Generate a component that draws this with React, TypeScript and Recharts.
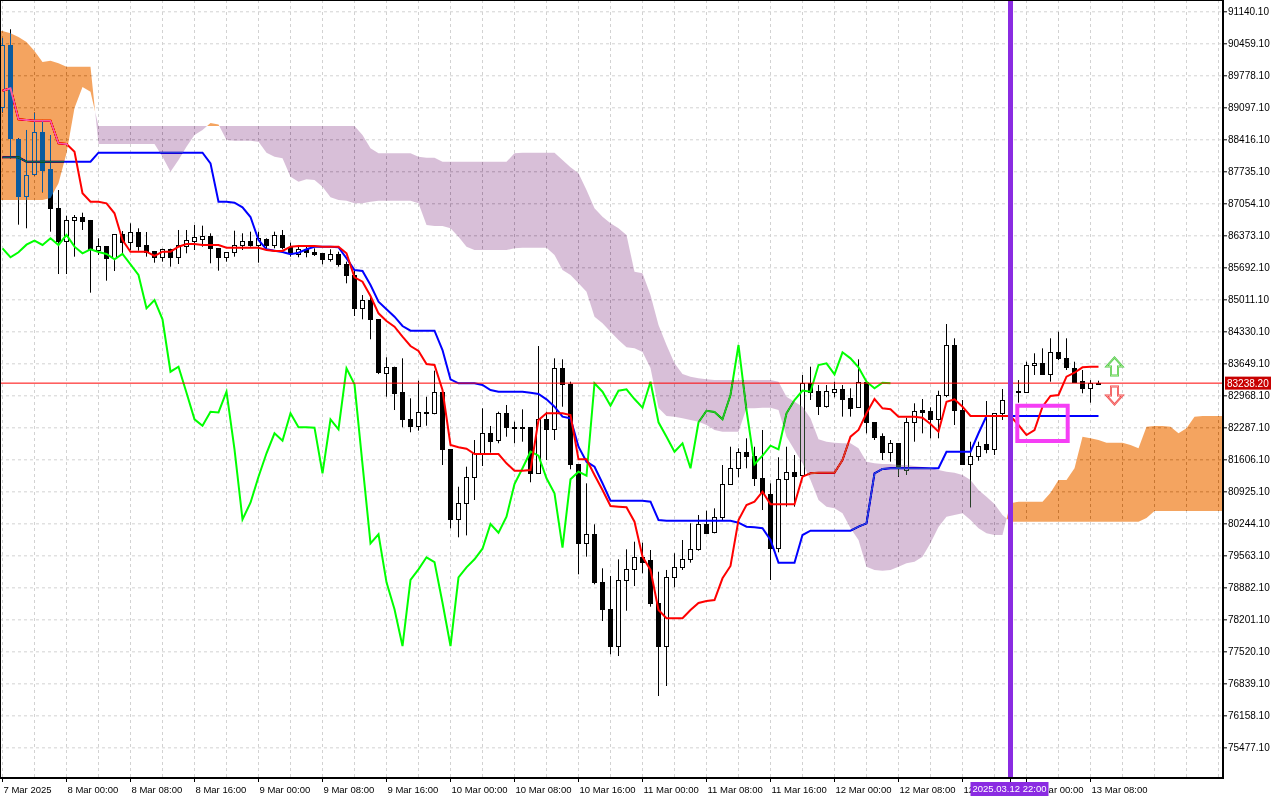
import {
  ComposedChart,
  Bar,
  Line,
  Area,
  XAxis,
  YAxis,
  CartesianGrid,
  ReferenceLine,
  ReferenceArea,
  ReferenceDot,
} from 'recharts';

// Hourly bars, index 0 = 7 Mar 2025 16:00
const OPEN = [
  89112, 90434, 88433, 87227, 87682, 88576, 87795, 86958, 86269, 86710,
  86767, 86710, 86071, 86156, 85894, 86405, 86248, 86454, 86172, 86050,
  85916, 86099, 85929, 86163, 86269, 86312, 86369, 86107, 85916, 86022,
  86178, 86263, 86178, 86299, 86178, 86391, 86142, 85980, 86086, 86029,
  86001, 85873, 85987, 85767, 85539, 84830, 85007, 84596, 83446, 83588,
  83041, 82468, 82332, 82625, 82609, 83056, 81830, 80340, 80694, 81247,
  81745, 82170, 82028, 82596, 82311, 82305, 82298, 81319, 82468, 82256,
  83554, 83213, 81511, 79830, 80021, 79000, 78425, 77644, 79049, 79276,
  79532, 79472, 78566, 77644, 79106, 79319, 79489, 79702, 80240, 80077,
  80396, 81085, 81426, 81766, 81694, 81213, 80879, 79736, 81192, 81353,
  81283, 83235, 83071, 82758, 83056, 83107, 82915, 82737, 83269, 82405,
  82113, 81779, 81958, 81389, 82405, 82666, 82651, 82468, 82985, 84049,
  82666, 81511, 81694, 81936, 81830, 82596, 82879, 83080, 83056, 83624,
  83674, 83426, 83894, 83766, 83554, 83290, 83128, 83248,
];
const HIGH = [
  90583, 90768, 88450, 88625, 88993, 88838, 88518, 87348, 86801, 86816,
  86865, 86710, 86320, 86156, 86405, 86475, 86639, 86533, 86454, 86050,
  86099, 86099, 86497, 86497, 86603, 86589, 86426, 86107, 86022, 86482,
  86426, 86461, 86461, 86320, 86461, 86497, 86227, 86178, 86156, 86107,
  86001, 86086, 86035, 85823, 85646, 85113, 85113, 84596, 83788, 83588,
  83766, 82915, 83290, 82949, 83503, 83056, 81830, 81034, 81460, 82028,
  82702, 82326, 82630, 82773, 82418, 82681, 82298, 84028, 82630, 83766,
  83745, 83269, 81511, 81106, 80234, 79298, 79134, 79489, 79702, 79864,
  79843, 79687, 79225, 79262, 79617, 79900, 80255, 80432, 80523, 80574,
  81496, 81885, 81851, 82064, 81885, 82241, 81106, 81660, 81885, 81709,
  83411, 83588, 83198, 83198, 83269, 83198, 83128, 83745, 83269, 82405,
  82170, 82028, 81958, 82502, 82809, 82900, 82724, 83077, 84496, 84192,
  82879, 81992, 81992, 82858, 82596, 83113, 83150, 83303, 83694, 83873,
  83979, 84192, 84333, 84192, 83694, 83517, 83303, 83290,
];
const LOW = [
  88999, 88023, 86610, 86533, 87660, 87299, 86461, 85560, 85560, 85929,
  86497, 85163, 85965, 85418, 85624, 86001, 86071, 86056, 85929, 85801,
  85823, 85716, 85773, 86001, 86071, 86142, 85788, 85631, 85823, 85929,
  86071, 86142, 85801, 86107, 86107, 86086, 85929, 85916, 85916, 85944,
  85766, 85823, 85716, 85362, 84667, 84596, 84171, 83431, 82949, 82666,
  82298, 82192, 82226, 82332, 82575, 81496, 80149, 79957, 79998, 80751,
  81474, 81758, 81958, 82098, 81958, 81992, 81128, 81319, 81602, 82028,
  82736, 81404, 79170, 79545, 78957, 78176, 77468, 77431, 78395, 78921,
  79191, 78481, 76580, 76793, 78893, 79262, 79417, 79672, 80042, 80042,
  80326, 81085, 81234, 81426, 81049, 80538, 79049, 79638, 80609, 80609,
  81247, 82879, 82560, 82716, 82936, 82525, 82525, 82716, 82170, 82028,
  81602, 81567, 81247, 81283, 81992, 82170, 82064, 82064, 82940, 82347,
  81496, 80596, 81587, 81745, 81709, 82454, 82700, 82822, 83056, 83411,
  83426, 83269, 83730, 83517, 83269, 83022, 82822, 83220,
];
const CLOSE = [
  90433, 88448, 87227, 87667, 88576, 87774, 86971, 86269, 86703, 86767,
  86695, 86086, 86150, 85894, 86405, 86248, 86454, 86163, 86022, 85916,
  86099, 85929, 86172, 86284, 86341, 86369, 86107, 85916, 86022, 86184,
  86269, 86178, 86320, 86178, 86391, 86142, 86001, 86086, 86029, 85987,
  85873, 85987, 85767, 85539, 84830, 85007, 84596, 83481, 83588, 83034,
  82468, 82332, 82630, 82615, 83056, 81830, 80340, 80694, 81247, 81745,
  82170, 82013, 82596, 82298, 82298, 82291, 81319, 82468, 82256, 83554,
  83213, 81511, 79830, 80021, 79000, 78425, 77644, 79049, 79276, 79532,
  79430, 78566, 77644, 79106, 79319, 79489, 79715, 80240, 80055, 80396,
  81092, 81426, 81779, 81694, 81213, 80894, 79736, 81192, 81353, 81268,
  83235, 83056, 82758, 83077, 83107, 82900, 82716, 83269, 82405, 82098,
  81779, 81958, 81426, 82405, 82651, 82624, 82468, 82985, 84049, 82666,
  81511, 81694, 81907, 81830, 82596, 82879, 83080, 83056, 83624, 83660,
  83426, 83894, 83766, 83575, 83269, 83128, 83248, 83238.2,
];

// Ichimoku lines
const TENKAN = [
  89461, 89512, 88853, 88838, 88823, 88823, 88823, 88342, 88327, 88163,
  87278, 87099, 87099, 87065, 86852, 86284, 86035, 86035, 86035, 85944,
  86035, 86035, 86141, 86199, 86199, 86178, 86178, 86178, 86120, 86120,
  86120, 86120, 86120, 86071, 86050, 86050, 86141, 86156, 86156, 86156,
  86141, 86141, 86141, 86001, 85490, 85397, 85092, 84724, 84560, 84439,
  84226, 84028, 83922, 83645, 83624, 83092, 81922, 81873, 81843, 81730,
  81730, 81730, 81730, 81532, 81375, 81375, 81390, 82454, 82596, 82596,
  82596, 82560, 81617, 81617, 81283, 80964, 80624, 80609, 80596, 80289,
  79545, 79262, 78410, 78234, 78234, 78234, 78410, 78559, 78602, 78623,
  79085, 79347, 80326, 80645, 80715, 80928, 80660, 80660, 80660, 80660,
  81247, 81319, 81332, 81332, 81332, 81602, 82098, 82241, 82596, 82900,
  82703, 82681, 82524, 82524, 82524, 82503, 82369, 82205, 82843, 82894,
  82737, 82539, 82539, 82539, 82539, 82539, 82539, 82347, 82134, 82241,
  82737, 82964, 82986, 83375, 83460, 83575, 83588, 83588,
];
const KIJUN = [
  88044, 88044, 88044, 87950, 87950, 87950, 87950, 87950, 87950, 87950,
  87950, 87950, 88142, 88142, 88142, 88142, 88142, 88142, 88142, 88142,
  88142, 88142, 88142, 88142, 88142, 88142, 87916, 87099, 87099, 87078,
  86980, 86773, 86284, 86086, 86056, 86029, 85980, 86014, 86086, 86141,
  86141, 86141, 86129, 85895, 85646, 85624, 85326, 84971, 84809, 84652,
  84454, 84354, 84354, 84354, 84354, 83943, 83320, 83235, 83235, 83235,
  83198, 83092, 83056, 83056, 83056, 83056, 83034, 83007, 82894, 82737,
  82524, 82490, 81885, 81566, 81460, 81107, 80736, 80736, 80736, 80736,
  80736, 80715, 80326, 80311, 80311, 80311, 80311, 80311, 80311, 80311,
  80311, 80311, 80268, 80183, 80170, 80149, 79900, 79417, 79417, 79417,
  80006, 80098, 80098, 80098, 80098, 80098, 80098, 80183, 80255, 81319,
  81411, 81426, 81426, 81426, 81426, 81426, 81426, 81426, 81779, 81779,
  81779, 81779, 82171, 82539, 82539, 82539, 82539, 82539, 82539, 82539,
  82539, 82539, 82539, 82539, 82539, 82539, 82539, 82539,
];
// Senkou spans, already shifted 26 bars forward
const SPAN_A = [
  90731, 90683, 90604, 90497, 90306, 90072, 90099, 90044, 89972, 89972,
  89972, 89972, 88327, 88327, 88327, 88327, 88327, 88327, 88327, 88327,
  88057, 87737, 87986, 88269, 88518, 88625, 88774, 88742, 88412, 88397,
  88397, 88397, 88376, 88142, 88057, 88023, 87631, 87525, 87576, 87561,
  87418, 87193, 87135, 87120, 87065, 87065, 87099, 87120, 87120, 87120,
  87120, 87120, 87065, 86603, 86582, 86582, 86533, 86354, 86141, 86071,
  86071, 86071, 86071, 86071, 86107, 86120, 86120, 86120, 86120, 85965,
  85646, 85539, 85363, 85184, 84652, 84511, 84333, 84156, 84001, 83979,
  83901, 83560, 82709, 82539, 82524, 82490, 82454, 82417, 82347, 82241,
  82205, 82205, 82205, 82703, 82703, 82715, 82715, 82666, 82098, 81815,
  81532, 81177, 80751, 80609, 80575, 80468, 80149, 79900, 79332, 79262,
  79247, 79262, 79332, 79404, 79438, 79545, 79836, 80177, 80396, 80432,
  80468, 80326, 80149, 80043, 80006, 80006, 80681, 80715, 80715, 80715,
  80715, 80907, 81177, 81177, 81426, 82098, 82064, 82028, 81971, 81971,
  81971, 81922, 81851, 82311, 82326, 82326, 82311, 82171, 82277, 82524,
  82539, 82539, 82539,
];
const SPAN_B = [
  87135, 87135, 87135, 87135, 87135, 87135, 87178, 87491, 88129, 89093,
  89540, 89440, 88710, 88710, 88710, 88710, 88710, 88710, 88710, 88710,
  88710, 88710, 88710, 88710, 88710, 88710, 88710, 88710, 88710, 88710,
  88710, 88710, 88710, 88710, 88710, 88710, 88710, 88710, 88710, 88710,
  88710, 88710, 88710, 88710, 88710, 88518, 88235, 88129, 88129, 88129,
  88129, 88129, 88057, 88035, 88035, 87950, 87950, 87950, 87950, 87950,
  87950, 87950, 87950, 87950, 88129, 88142, 88142, 88142, 88142, 88142,
  87986, 87831, 87703, 87348, 86959, 86780, 86639, 86533, 86390, 85609,
  85575, 85114, 84475, 84050, 83660, 83433, 83375, 83341, 83320, 83305,
  83305, 83305, 83305, 83305, 83305, 83305, 83305, 83269, 82949, 82843,
  82737, 82490, 82043, 81992, 81971, 81958, 81958, 81851, 81566, 81532,
  81517, 81517, 81496, 81496, 81475, 81453, 81432, 81390, 81353, 81332,
  81283, 81177, 80964, 80821, 80666, 80432, 80289, 80289, 80289, 80289,
  80289, 80289, 80289, 80289, 80289, 80289, 80289, 80289, 80289, 80289,
  80289, 80289, 80289, 80368, 80517, 80517, 80517, 80517, 80517, 80517,
  80517, 80517, 80517,
];
const CHIKOU_SHIFT = 26;

const TIME_TICKS = [0, 8, 16, 24, 32, 40, 48, 56, 64, 72, 80, 88, 96, 104, 112, 120, 128, 136];
const TIME_LABELS = [
  '7 Mar 2025', '8 Mar 00:00', '8 Mar 08:00', '8 Mar 16:00', '9 Mar 00:00', '9 Mar 08:00',
  '9 Mar 16:00', '10 Mar 00:00', '10 Mar 08:00', '10 Mar 16:00', '11 Mar 00:00', '11 Mar 08:00',
  '11 Mar 16:00', '12 Mar 00:00', '12 Mar 08:00', '12 Mar 16:00', '13 Mar 00:00', '13 Mar 08:00',
];
const PRICE_TICKS = [
  91140.1, 90459.1, 89778.1, 89097.1, 88416.1, 87735.1, 87054.1, 86373.1, 85692.1, 85011.1,
  84330.1, 83649.1, 82968.1, 82287.1, 81606.1, 80925.1, 80244.1, 79563.1, 78882.1, 78201.1,
  77520.1, 76839.1, 76158.1, 75477.1,
];

const LAST_PRICE = 83238.2;
const MARK_BAR = 126;
const MARK_LABEL = '2025.03.12 22:00';
const BOX = { from: 126.85, to: 133.15, low: 82007, high: 82758 };
const ARROW_BAR = 139;
const ARROW_UP_PRICE = 83592;
const ARROW_DOWN_PRICE = 82975;

const X_MIN = -0.3125;
const X_MAX = 152.5625;
const Y_MIN = 74835.4;
const Y_MAX = 91391.2;

const FONT = "'Liberation Sans', Arial, sans-serif";
const GRID_BARS = Array.from({ length: 39 }, (_, k) => k * 4);
// the marked bar goes last so its tag is painted over the time labels
const AXIS_TICKS = [...TIME_TICKS, MARK_BAR];

type Row = {
  x: number;
  o?: number;
  h?: number;
  l?: number;
  c?: number;
  tenkan?: number;
  kijun?: number;
  chikou?: number;
  bull?: [number, number] | null;
  bear?: [number, number] | null;
};

function cloudAt(i: number) {
  const a = SPAN_A[i];
  const b = SPAN_B[i];
  return {
    bull: a >= b ? ([b, a] as [number, number]) : null,
    bear: a < b ? ([a, b] as [number, number]) : null,
  };
}

// one row per bar, plus the points where the spans cross so the fills meet
const rows: Row[] = [];
rows.push({ x: X_MIN, ...cloudAt(0) });
for (let i = 0; i < SPAN_A.length; i++) {
  const row: Row = { x: i, ...cloudAt(i) };
  if (i < OPEN.length) {
    row.o = OPEN[i];
    row.h = HIGH[i];
    row.l = LOW[i];
    row.c = CLOSE[i];
    row.tenkan = TENKAN[i];
    row.kijun = KIJUN[i];
  }
  if (i + CHIKOU_SHIFT < CLOSE.length) row.chikou = CLOSE[i + CHIKOU_SHIFT];
  rows.push(row);
  if (i < SPAN_A.length - 1) {
    const d0 = SPAN_A[i] - SPAN_B[i];
    const d1 = SPAN_A[i + 1] - SPAN_B[i + 1];
    if (d0 >= 0 !== d1 >= 0) {
      const t = d0 / (d0 - d1);
      const v = SPAN_A[i] + t * (SPAN_A[i + 1] - SPAN_A[i]);
      rows.push({ x: i + t, bull: [v, v], bear: [v, v] });
    }
  }
}
rows.push({ x: X_MAX, ...cloudAt(SPAN_A.length - 1) });

function Candle(props: any) {
  const { x, y, width, height, payload } = props;
  if (!payload || payload.h == null) return null;
  const { o, h, l, c } = payload;
  const top = Math.min(y, y + height);
  const bottom = Math.max(y, y + height);
  const span = h - l || 1;
  const py = (p: number) => top + ((h - p) / span) * (bottom - top);
  const cx = Math.floor(x + width / 2) + 0.5;
  const bodyTop = Math.round(py(Math.max(o, c))) + 0.5;
  const bodyBottom = Math.max(bodyTop + 1, Math.round(py(Math.min(o, c))) + 0.5);
  const bull = c >= o;
  return (
    <g>
      <line x1={cx} x2={cx} y1={top} y2={bottom} stroke="#000" strokeWidth={1} />
      <rect
        x={cx - 2}
        y={bodyTop}
        width={4}
        height={bodyBottom - bodyTop}
        fill={bull ? '#fff' : '#000'}
        stroke="#000"
        strokeWidth={1}
      />
    </g>
  );
}

function TimeTick(props: any) {
  const { x, y, payload } = props;
  if (payload.value === MARK_BAR) {
    return (
      <g>
        <rect x={x - 40} y={y - 2} width={78} height={14} fill="#8a2be2" />
        <text x={x - 1} y={y + 5} dy="0.355em" textAnchor="middle" fontSize={9.5} fontFamily={FONT} fill="#fff">
          {MARK_LABEL}
        </text>
      </g>
    );
  }
  const label = TIME_LABELS[TIME_TICKS.indexOf(payload.value)];
  return (
    <text x={x + 1} y={y} dy={9} textAnchor="start" fontSize={9.5} fontFamily={FONT} fill="#000">
      {label}
    </text>
  );
}

function priceTag(props: any) {
  const vb = props.viewBox;
  const right = vb.x + vb.width;
  return (
    <g>
      <rect x={right + 2} y={vb.y - 6.5} width={46} height={13} fill="#c80000" />
      <text x={right + 4} y={vb.y} dy="0.355em" fontSize={10} fontFamily={FONT} fill="#fff">
        {LAST_PRICE.toFixed(2)}
      </text>
    </g>
  );
}

function UpArrow(props: any) {
  const { cx, cy } = props;
  const d = `M${cx - 8} ${cy} L${cx} ${cy - 9} L${cx + 8} ${cy} L${cx + 3.5} ${cy} L${cx + 3.5} ${cy + 9} L${cx - 3.5} ${cy + 9} L${cx - 3.5} ${cy} Z`;
  return (
    <g>
      <path d={d} fill="#fff" stroke="#4cc84c" strokeWidth={2} strokeLinejoin="miter" />
      <path d={d} fill="none" stroke="#d6f7a8" strokeWidth={0.6} />
    </g>
  );
}

function DownArrow(props: any) {
  const { cx, cy } = props;
  const d = `M${cx - 8} ${cy} L${cx} ${cy + 9} L${cx + 8} ${cy} L${cx + 3.5} ${cy} L${cx + 3.5} ${cy - 9} L${cx - 3.5} ${cy - 9} L${cx - 3.5} ${cy} Z`;
  return (
    <g>
      <path d={d} fill="#fff" stroke="#f04848" strokeWidth={2} strokeLinejoin="miter" />
      <path d={d} fill="none" stroke="#ffc0c0" strokeWidth={0.6} />
    </g>
  );
}

export default function App() {
  return (
    <div style={{ width: 1280, height: 800, background: '#fff' }}>
      <style>{'body{margin:0;background:#fff}.ichimoku-cloud path{mix-blend-mode:difference}'}</style>
      <ComposedChart width={1280} height={800} data={rows} margin={{ top: 0, right: 0, bottom: 0, left: 0 }}>
        <CartesianGrid
          fill="#fff"
          stroke="#d2d2d2"
          strokeDasharray="3 3"
          verticalValues={GRID_BARS}
          horizontalValues={PRICE_TICKS}
        />
        <XAxis
          dataKey="x"
          type="number"
          domain={[X_MIN, X_MAX]}
          ticks={AXIS_TICKS}
          interval={0}
          height={22}
          tickSize={4}
          tickMargin={2}
          tick={<TimeTick />}
          axisLine={{ stroke: '#000' }}
          tickLine={{ stroke: '#000' }}
        />
        <YAxis
          orientation="right"
          type="number"
          domain={[Y_MIN, Y_MAX]}
          ticks={PRICE_TICKS}
          interval={0}
          width={57}
          tickSize={4}
          tickMargin={1}
          tickFormatter={(v: number) => v.toFixed(2)}
          tick={{ fontSize: 10, fill: '#000', fontFamily: FONT }}
          axisLine={{ stroke: '#000' }}
          tickLine={{ stroke: '#000' }}
        />
        <Bar
          dataKey={(r: Row) => (r.h != null ? [r.l, r.h] : null)}
          barSize={5}
          shape={(p: any) => <Candle {...p} />}
          isAnimationActive={false}
          zIndex={300}
        />
        <Line type="linear" dataKey="chikou" stroke="#00ff00" strokeWidth={2} dot={false} activeDot={false} connectNulls isAnimationActive={false} zIndex={400} />
        <Line type="linear" dataKey="kijun" stroke="#0000ff" strokeWidth={2} dot={false} activeDot={false} connectNulls isAnimationActive={false} zIndex={400} />
        <Line type="linear" dataKey="tenkan" stroke="#ff0000" strokeWidth={2} dot={false} activeDot={false} connectNulls isAnimationActive={false} zIndex={400} />
        {/* cloud drawn as a difference blend so it tints whatever lies underneath, like the terminal does */}
        <Area
          type="linear"
          dataKey="bull"
          className="ichimoku-cloud"
          fill="#0b5b9f"
          fillOpacity={1}
          stroke="none"
          dot={false}
          activeDot={false}
          isAnimationActive={false}
          zIndex={450}
        />
        <Area
          type="linear"
          dataKey="bear"
          className="ichimoku-cloud"
          fill="#274027"
          fillOpacity={1}
          stroke="none"
          dot={false}
          activeDot={false}
          isAnimationActive={false}
          zIndex={450}
        />
        <ReferenceLine y={LAST_PRICE} stroke="#ff0000" strokeWidth={1} label={priceTag} zIndex={600} />
        <ReferenceLine x={MARK_BAR} stroke="#8a2be2" strokeWidth={5} zIndex={600} />
        <ReferenceArea
          x1={BOX.from}
          x2={BOX.to}
          y1={BOX.low}
          y2={BOX.high}
          fill="none"
          fillOpacity={0}
          stroke="#f53ef5"
          strokeWidth={4}
          zIndex={600}
        />
        <ReferenceDot x={ARROW_BAR} y={ARROW_UP_PRICE} r={8} shape={UpArrow} zIndex={600} />
        <ReferenceDot x={ARROW_BAR} y={ARROW_DOWN_PRICE} r={8} shape={DownArrow} zIndex={600} />
        <ReferenceArea
          x1={X_MIN}
          x2={X_MAX}
          y1={Y_MIN}
          y2={Y_MAX}
          fill="none"
          fillOpacity={0}
          stroke="#000"
          strokeWidth={2}
          zIndex={600}
        />
      </ComposedChart>
    </div>
  );
}
